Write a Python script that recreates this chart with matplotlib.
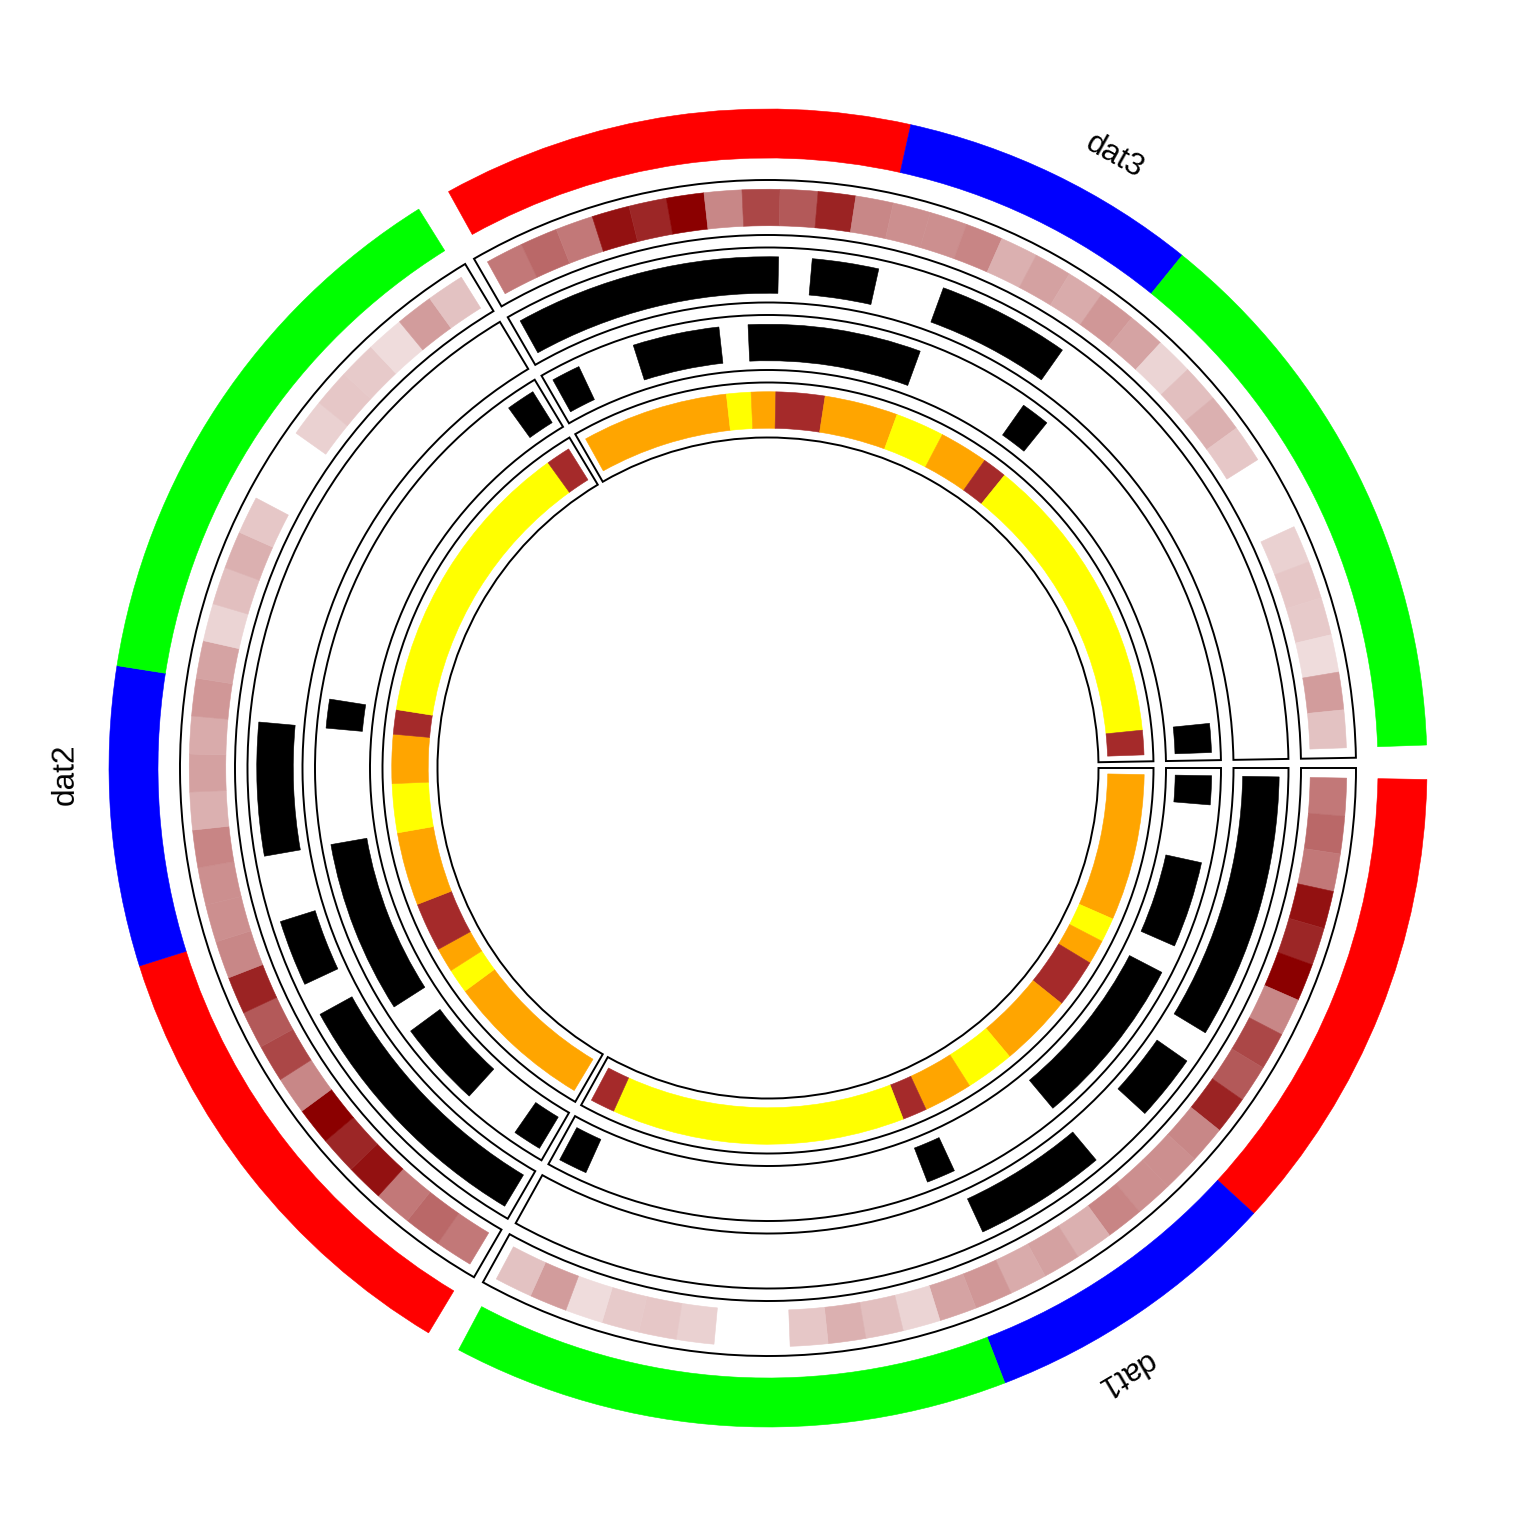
import numpy as np
import matplotlib
matplotlib.use("Agg")
import matplotlib.pyplot as plt
from matplotlib.patches import Wedge
from matplotlib.colors import LinearSegmentedColormap

plt.rcParams['font.family'] = ['Liberation Sans', 'DejaVu Sans']

# ---------------- data ----------------
sectors = ["dat1", "dat2", "dat3"]
n_units = 31                      # positions per sector

# outer ring bands (in position units)
band_start = [0, 11, 18]
band_end = [11, 18, 31]
band_colors = ["#FF0000", "#0000FF", "#00FF00"]

# heatmap track values, one per unit position (nan = missing)
heat_values = [0.53, 0.59, 0.53, 0.93, 0.85, 1.00, 0.47, 0.72, 0.65, 0.86,
               0.47, 0.44, 0.44, 0.48, 0.31, 0.37, 0.33, 0.41, 0.36, 0.17,
               0.25, 0.31, 0.22, np.nan, np.nan, 0.18, 0.22, 0.21, 0.14, 0.39,
               0.24]

# black region tracks
bars1_start = [0, 9, 13]
bars1_end = [8, 11, 17]
bars2_start = [0, 3, 7, 17, 30]
bars2_end = [1, 6, 13, 18, 31]

# categorical colour track
cat_start = [0, 6, 7, 8, 10, 13, 15, 17, 18, 30]
cat_end = [6, 7, 8, 10, 13, 15, 17, 18, 30, 31]
cat_colors = ["orange", "yellow", "orange", "brown", "orange",
              "yellow", "orange", "brown", "yellow", "brown"]

# ---------------- layout ----------------
SECTOR_START = [0, 120, 240]      # clockwise degrees from 3 o'clock
SECTOR_SPAN = 119
PAD = 1.0
CONTENT = SECTOR_SPAN - 2 * PAD

RING = (610, 659)
TRACKS = [(533, 588), (465.5, 520.5), (398, 453), (330.5, 385.5)]
INNER_PAD = 9.25
LW = 1.4

fig = plt.figure(figsize=(15.36, 15.36), dpi=100)
ax = fig.add_axes([0, 0, 1, 1])
ax.set_xlim(-768, 768)
ax.set_ylim(-768, 768)
ax.set_aspect('equal')
ax.axis('off')


def unit_to_cw(s, x):
    return SECTOR_START[s] + PAD + x * CONTENT / n_units


def seg(s, x0, x1, r0, r1, color):
    a = unit_to_cw(s, x0)
    b = unit_to_cw(s, x1)
    ax.add_patch(Wedge((0, 0), r1, -b, -a, width=r1 - r0,
                       facecolor=color, edgecolor=color, lw=0.4))


cmap = LinearSegmentedColormap.from_list("wr", ["#FFFFFF", "#8B0000"])

for s, name in enumerate(sectors):
    # outer ring
    for x0, x1, c in zip(band_start, band_end, band_colors):
        seg(s, x0, x1, RING[0], RING[1], c)

    # track boxes
    for (r0, r1) in TRACKS:
        a = SECTOR_START[s]
        b = a + SECTOR_SPAN
        ax.add_patch(Wedge((0, 0), r1, -b, -a, width=r1 - r0,
                           fill=False, edgecolor='black', lw=LW))

    # heatmap
    r0, r1 = TRACKS[0][0] + INNER_PAD, TRACKS[0][1] - INNER_PAD
    for i, v in enumerate(heat_values):
        if np.isnan(v):
            continue
        seg(s, i, i + 1, r0, r1, cmap(v))

    # black tracks
    r0, r1 = TRACKS[1][0] + INNER_PAD, TRACKS[1][1] - INNER_PAD
    for x0, x1 in zip(bars1_start, bars1_end):
        seg(s, x0, x1, r0, r1, 'black')
    r0, r1 = TRACKS[2][0] + INNER_PAD, TRACKS[2][1] - INNER_PAD
    for x0, x1 in zip(bars2_start, bars2_end):
        seg(s, x0, x1, r0, r1, 'black')

    # categorical track
    r0, r1 = TRACKS[3][0] + INNER_PAD, TRACKS[3][1] - INNER_PAD
    for x0, x1, c in zip(cat_start, cat_end, cat_colors):
        seg(s, x0, x1, r0, r1, c)

    # sector label
    mid = -(SECTOR_START[s] + SECTOR_SPAN / 2)
    rad = np.deg2rad(mid)
    rl = 695
    ax.text(rl * np.cos(rad), rl * np.sin(rad), name, rotation=mid - 90,
            rotation_mode='anchor', ha='center', va='baseline',
            fontsize=22.7, color='black')

fig.savefig("out.png", dpi=100, facecolor='white')
